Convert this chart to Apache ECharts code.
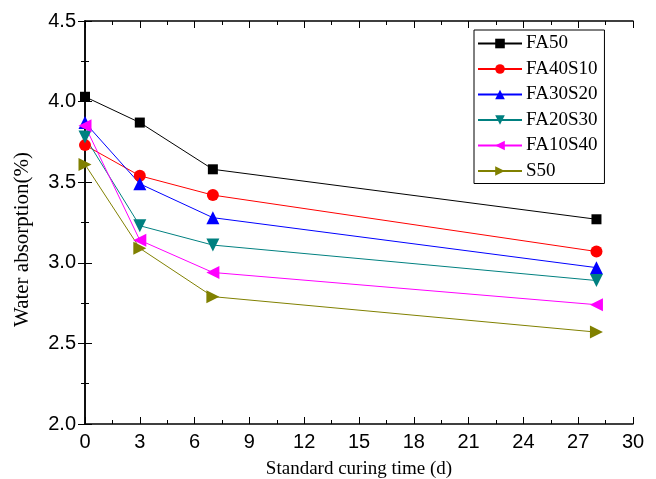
<!DOCTYPE html>
<html>
<head>
<meta charset="utf-8">
<script src="https://cdn.jsdelivr.net/npm/echarts@6/dist/echarts.min.js"></script>
<style>html,body{margin:0;padding:0;background:#fff}#c{width:656px;height:479px}</style>
</head>
<body>
<div id="c"></div>
<script>
var days = [0, 3, 7, 28];
var seriesNames = ['FA50', 'FA40S10', 'FA30S20', 'FA20S30', 'FA10S40', 'S50'];
var FA50 = [4.03, 3.87, 3.58, 3.27];
var FA40S10 = [3.73, 3.54, 3.42, 3.07];
var FA30S20 = [3.87, 3.49, 3.28, 2.97];
var FA20S30 = [3.78, 3.23, 3.11, 2.89];
var FA10S40 = [3.85, 3.14, 2.94, 2.74];
var S50 = [3.61, 3.09, 2.79, 2.57];
var xTicks = [0, 3, 6, 9, 12, 15, 18, 21, 24, 27, 30];
var yTicks = [2.0, 2.5, 3.0, 3.5, 4.0, 4.5];

var values = [FA50, FA40S10, FA30S20, FA20S30, FA10S40, S50];
var colors = ['#000000', '#ff0000', '#0000ff', '#008080', '#ff00ff', '#808000'];
var symbols = ['rect', 'circle', 'triangle', 'triangle', 'triangle', 'triangle'];
var rotates = [0, 0, 0, 180, 90, -90];
var sizes = [10, 12, 13, 13, 13, 13];

function pairs(v) { return days.map(function (d, i) { return [d, v[i]]; }); }

var series = seriesNames.map(function (n, i) {
  return {
    name: n, type: 'line', data: pairs(values[i]),
    symbol: symbols[i], symbolRotate: rotates[i], symbolSize: sizes[i],
    showAllSymbol: true,
    lineStyle: { color: colors[i], width: 1 },
    itemStyle: { color: colors[i] },
    emphasis: { disabled: true },
    animation: false
  };
});

var axisCommon = {
  axisLine: { show: true, lineStyle: { color: '#000', width: 1.5 } },
  axisTick: { show: true, inside: true, length: 7, lineStyle: { color: '#000', width: 1 } },
  minorTick: { show: true, splitNumber: 2, length: 4, lineStyle: { color: '#000', width: 1 } },
  splitLine: { show: false }
};

var chart = echarts.init(document.getElementById('c'), null, { renderer: 'canvas' });
chart.setOption({
  animation: false,
  grid: { left: 85, right: 23, top: 21, bottom: 55, containLabel: false, outerBoundsMode: 'none' },
  legend: {
    orient: 'vertical', left: 474, top: 30,
    data: seriesNames,
    itemWidth: 44, itemHeight: 12, itemGap: 6.5,
    padding: [4, 7, 3, 3],
    borderColor: '#000', borderWidth: 1,
    textStyle: { fontFamily: 'Liberation Serif', fontSize: 19, color: '#000', padding: [0, 0, 0, -1] }
  },
  xAxis: [
    Object.assign({
      type: 'value', min: 0, max: 30, interval: 3, position: 'bottom',
      name: 'Standard curing time (d)', nameLocation: 'middle', nameGap: 36,
      nameTextStyle: { fontFamily: 'Liberation Serif', fontSize: 19, color: '#000' },
      axisLabel: { fontFamily: 'Liberation Sans', fontSize: 20, color: '#000', margin: 8 }
    }, axisCommon),
    Object.assign({
      type: 'value', min: 0, max: 30, interval: 3, position: 'top',
      axisLabel: { show: false }
    }, axisCommon)
  ],
  yAxis: [
    Object.assign({
      type: 'value', min: 2.0, max: 4.5, interval: 0.5, position: 'left',
      name: 'Water absorption(%)', nameLocation: 'middle', nameGap: 52, nameRotate: 90,
      nameTextStyle: { fontFamily: 'Liberation Serif', fontSize: 21, color: '#000', padding: [0, 34, 0, 0] },
      axisLabel: { fontFamily: 'Liberation Sans', fontSize: 20, color: '#000', margin: 9,
        formatter: function (v) { return v.toFixed(1); } }
    }, axisCommon),
    Object.assign({
      type: 'value', min: 2.0, max: 4.5, interval: 0.5, position: 'right',
      axisLabel: { show: false }
    }, axisCommon)
  ],
  series: series
});
</script>
</body>
</html>
